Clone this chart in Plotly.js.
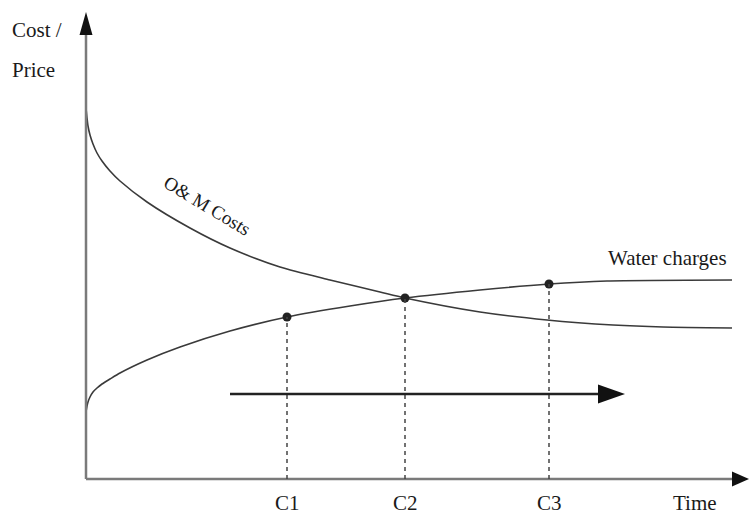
<!DOCTYPE html>
<html>
<head>
<meta charset="utf-8">
<script src="https://cdn.plot.ly/plotly-3.0.1.min.js"></script>
<style>html,body{margin:0;padding:0;background:#fff;}#chart{width:749px;height:515px;}</style>
</head>
<body>
<div id="chart"></div>
<script>
// Schematic values (time units / cost units)
const omTime  = [0, 1, 2, 4, 7, 11, 16, 24, 34, 61, 104, 144, 194, 244, 294, 319, 394, 461, 527, 577, 646];
const omCost  = [371, 361, 353, 344, 335, 326, 318, 308, 298, 277, 251, 231, 212, 199, 187, 181, 167, 159, 154, 152, 151];
const waterTime   = [0, 1, 2, 4, 7, 11, 16, 24, 34, 61, 94, 144, 201, 264, 319, 394, 463, 521, 646];
const waterCharge = [67, 73, 77, 82, 87, 91, 95, 100, 106, 119, 132, 148, 162, 173, 181, 189, 195, 198, 199];
const pointLabels = ['C1', 'C2', 'C3'];
const pointTime   = [201, 319, 463];
const pointValue  = [162, 181, 195];
const arrowStart = 144, arrowEnd = 539, arrowLevel = 85;
const axisTimeEnd = 663, axisCostEnd = 467;

const serif = 'Liberation Serif, Times New Roman, serif';
const curveColor = '#3a3a3a';

const traces = [
  {x: omTime, y: omCost, mode: 'lines', line: {color: curveColor, width: 1.6, shape: 'spline', smoothing: 0.7}, hoverinfo: 'skip'},
  {x: waterTime, y: waterCharge, mode: 'lines', line: {color: curveColor, width: 1.6, shape: 'spline', smoothing: 0.7}, hoverinfo: 'skip'},
  {x: pointTime, y: pointValue, mode: 'markers', marker: {color: '#222', size: 9}, hoverinfo: 'skip'}
];

const shapes = [];
// axes
shapes.push({type: 'line', xref: 'x', yref: 'y', x0: 0, y0: 0, x1: 0, y1: axisCostEnd - 22, line: {color: '#7a7a7a', width: 2.5}});
shapes.push({type: 'line', xref: 'x', yref: 'y', x0: 0, y0: 0, x1: axisTimeEnd - 16, y1: 0, line: {color: '#7a7a7a', width: 2.5}});
shapes.push({type: 'path', xref: 'x', yref: 'y', path: `M ${-6.5},${axisCostEnd - 23} L 0,${axisCostEnd} L 6.5,${axisCostEnd - 23} Z`, fillcolor: '#111', line: {width: 0}});
shapes.push({type: 'path', xref: 'x', yref: 'y', path: `M ${axisTimeEnd - 17},-7.5 L ${axisTimeEnd},0 L ${axisTimeEnd - 17},7.5 Z`, fillcolor: '#111', line: {width: 0}});
// dashed drop lines
pointTime.forEach((t, i) => {
  shapes.push({type: 'line', xref: 'x', yref: 'y', x0: t, y0: 0, x1: t, y1: pointValue[i], line: {color: '#444', width: 1.5, dash: '4px,4px'}});
});
// horizontal arrow
shapes.push({type: 'line', xref: 'x', yref: 'y', x0: arrowStart, y0: arrowLevel, x1: arrowEnd - 26, y1: arrowLevel, line: {color: '#222', width: 2.5}});
shapes.push({type: 'path', xref: 'x', yref: 'y', path: `M ${arrowEnd - 27},${arrowLevel - 9.5} L ${arrowEnd},${arrowLevel} L ${arrowEnd - 27},${arrowLevel + 9.5} Z`, fillcolor: '#111', line: {width: 0}});

const txt = (text, x, y, opts) => Object.assign({text: text, x: x, y: y, xref: 'x', yref: 'y', showarrow: false, font: {family: serif, size: 21, color: '#1a1a1a'}}, opts || {});
const annotations = [
  txt('Cost /', -76, 449, {xanchor: 'left'}),
  txt('Price', -76, 409, {xanchor: 'left'}),
  txt('Time', 609, -24),
  txt('Water charges', 581, 221),
  txt('O&amp; M Costs', 121, 274, {textangle: 31, font: {family: serif, size: 19, color: '#1a1a1a'}})
];
pointLabels.forEach((lab, i) => annotations.push(txt(lab, pointTime[i], -24)));

const layout = {
  width: 749, height: 515,
  margin: {l: 0, r: 0, t: 0, b: 0},
  paper_bgcolor: '#fff', plot_bgcolor: '#fff',
  showlegend: false,
  xaxis: {range: [-86, 663], visible: false, fixedrange: true},
  yaxis: {range: [-36, 479], visible: false, fixedrange: true},
  shapes: shapes,
  annotations: annotations
};
Plotly.newPlot('chart', traces, layout, {displayModeBar: false, staticPlot: true});
</script>
</body>
</html>
